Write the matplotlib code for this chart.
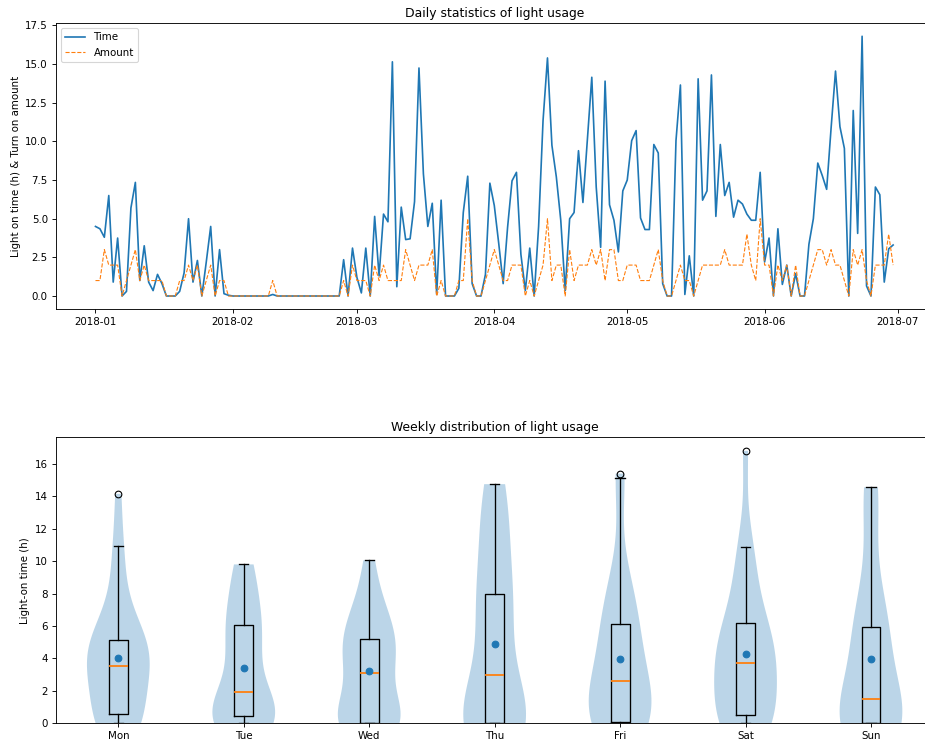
import numpy as np
import pandas as pd
import matplotlib
matplotlib.use('Agg')
import matplotlib.pyplot as plt

plt.rcParams['font.size'] = 9.2

# ---------- data (daily, 2018-01-01 .. 2018-06-30) ----------
start_date = '2018-01-01'

time_h = [
    4.5, 4.35, 3.8, 6.5, 0.9, 3.75, 0.0, 0.3, 5.7, 7.35,
    1.0, 3.25, 0.9, 0.35, 1.4, 0.8, 0.0, 0.0, 0.0, 0.3,
    1.5, 5.0, 0.9, 2.3, 0.0, 2.2, 4.5, 0.0, 3.0, 0.15,
    0.05, 0.0, 0.0, 0.0, 0.0, 0.0, 0.0, 0.0, 0.0, 0.0,
    0.1, 0.0, 0.0, 0.0, 0.0, 0.0, 0.0, 0.0, 0.0, 0.0,
    0.0, 0.0, 0.0, 0.0, 0.0, 0.0, 2.35, 0.0, 3.1, 1.2,
    0.2, 3.1, 0.0, 5.15, 1.3, 5.3, 4.8, 15.15, 0.6, 5.75,
    3.65, 3.7, 6.1, 14.75, 7.9, 4.5, 6.0, 0.1, 6.2, 0.0,
    0.0, 0.0, 0.5, 5.4, 7.75, 0.8, 0.0, 0.0, 1.4, 7.3,
    5.85, 3.4, 0.8, 4.45, 7.45, 8.0, 2.7, 0.35, 3.1, 0.0,
    4.5, 11.35, 15.4, 9.75, 7.7, 4.9, 0.35, 5.0, 5.4, 9.4,
    6.05, 10.05, 14.15, 7.05, 3.15, 13.9, 5.9, 4.9, 2.85, 6.8,
    7.5, 10.05, 10.7, 5.05, 4.3, 4.3, 9.8, 9.25, 0.8, 0.0,
    0.0, 10.05, 13.65, 0.1, 2.6, 0.0, 14.05, 6.2, 6.8, 14.3,
    5.15, 9.8, 6.5, 7.35, 5.1, 6.2, 5.95, 5.3, 4.9, 4.9,
    8.0, 2.2, 3.75, 0.0, 4.35, 0.75, 2.0, 0.0, 1.45, 0.0,
    0.0, 3.35, 5.0, 8.6, 7.8, 6.9, 10.85, 14.55, 10.95, 9.55,
    0.0, 12.0, 4.05, 16.8, 0.65, 0.0, 7.05, 6.55, 0.9, 3.05,
    3.3,
]

amount = [
    1, 1, 3, 2, 2, 2, 0, 1, 2, 3,
    1, 2, 1, 1, 1, 1, 0, 0, 0, 1,
    1, 2, 1, 2, 0, 1, 2, 0, 1, 1,
    0, 0, 0, 0, 0, 0, 0, 0, 0, 0,
    1, 0, 0, 0, 0, 0, 0, 0, 0, 0,
    0, 0, 0, 0, 0, 0, 1, 0, 2, 1,
    1, 1, 0, 2, 1, 2, 1, 1, 1, 1,
    3, 2, 1, 2, 2, 2, 3, 0, 1, 0,
    0, 0, 1, 1, 5, 1, 0, 0, 1, 2,
    3, 2, 1, 1, 2, 2, 2, 0, 1, 0,
    1, 2, 5, 1, 2, 2, 0, 3, 1, 2,
    2, 2, 3, 2, 3, 1, 3, 3, 1, 1,
    2, 2, 2, 1, 1, 1, 2, 3, 1, 0,
    0, 1, 2, 1, 1, 0, 1, 2, 2, 2,
    2, 2, 3, 2, 2, 2, 2, 4, 2, 1,
    5, 2, 2, 0, 2, 1, 2, 0, 2, 0,
    0, 1, 2, 3, 3, 2, 3, 2, 2, 1,
    0, 3, 2, 3, 1, 0, 2, 2, 2, 4,
    2,
]

week_labels = ['Mon', 'Tue', 'Wed', 'Thu', 'Fri', 'Sat', 'Sun']

dates = pd.date_range(start_date, periods=len(time_h), freq='D')
time_arr = np.array(time_h)
weekday = dates.dayofweek.values
groups = [time_arr[weekday == i] for i in range(7)]
means = [g.mean() for g in groups]

# ---------- figure ----------
W, H, DPI = 925, 742, 80
fig = plt.figure(figsize=(W / DPI, H / DPI), dpi=DPI)

# top: daily line chart (axes runs past right edge like the reference crop)
ax1 = fig.add_axes([55.6 / W, 1 - 309 / H, (933 - 55.6) / W, (309 - 23.3) / H])
ax1.plot(dates, time_h, color='#1f77b4', linewidth=1.5, label='Time')
ax1.plot(dates, amount, color='#ff7f0e', linestyle='--', linewidth=1.0,
         label='Amount')
ax1.set_title('Daily statistics of light usage', fontsize=11.2)
ax1.set_ylabel('Light on time (h) & Turn on amount')
ax1.legend(loc='upper left')

# bottom: weekly violin + box
ax2 = fig.add_axes([55.6 / W, 1 - 723.3 / H, (933.7 - 55.6) / W, (723.3 - 437.3) / H])
pos = np.arange(1, 8)
vp = ax2.violinplot(groups, positions=pos, showextrema=False)
for b in vp['bodies']:
    b.set_facecolor('#1f77b4')
    b.set_edgecolor('none')
    b.set_alpha(0.3)
    b.set_zorder(1)
ax2.boxplot(groups, positions=pos, widths=0.15,
            boxprops=dict(linewidth=1.2),
            whiskerprops=dict(linewidth=1.2),
            capprops=dict(linewidth=1.2),
            medianprops=dict(color='#ff7f0e', linewidth=1.6, zorder=3))
ax2.scatter(pos, means, color='#1f77b4', s=36, zorder=4)
ax2.set_xticks(pos)
ax2.set_xticklabels(week_labels)
ax2.set_xlim(0.5, 7.5)
ax2.set_ylim(bottom=0)
ax2.set_title('Weekly distribution of light usage', fontsize=11.2)
ax2.set_ylabel('Light-on time (h)')

fig.savefig('out.png', dpi=DPI)
